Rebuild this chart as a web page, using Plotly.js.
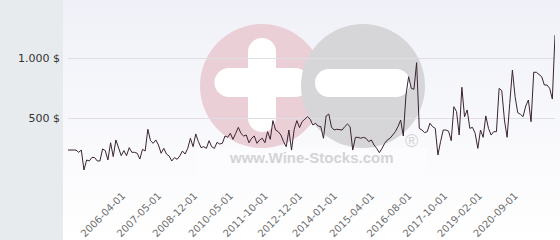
<!DOCTYPE html>
<html>
<head>
<meta charset="utf-8">
<script src="https://cdn.plot.ly/plotly-3.0.1.min.js"></script>
<style>html,body{margin:0;padding:0;background:#fff}#chart{width:560px;height:240px}</style>
</head>
<body>
<div id="chart"></div>
<script>
// Price series (USD), in order
const prices = [
  233,233,233,233,214,233,67,150,142,172,
  170,142,142,242,228,150,294,178,317,242,
  186,228,186,253,214,214,206,158,239,225,
  406,311,289,317,275,206,247,200,183,142,
  170,156,183,225,200,247,331,261,367,303,
  253,261,247,311,261,247,297,283,289,350,
  339,372,322,372,422,372,350,358,294,331,
  350,289,317,331,294,386,322,478,400,386,
  358,303,261,400,233,406,478,420,470,490,
  511,490,442,456,433,428,331,517,533,425,
  400,406,400,400,428,450,428,233,339,339,
  331,339,331,303,317,275,247,211,247,289,
  317,331,358,386,428,483,350,692,844,747,
  739,961,414,400,378,386,456,428,414,192,
  303,400,400,390,311,594,553,358,756,511,
  567,414,422,372,247,400,339,517,414,358,
  386,386,747,728,483,339,622,900,678,544,
  531,511,600,650,469,881,881,858,844,775,
  775,747,658,1192
];
// Tick labels (dates) and the observation position at which each appears
const tickLabels = ['2006-04-01','2007-05-01','2008-12-01','2010-05-01','2011-10-01','2012-12-01','2014-01-01','2015-04-01','2016-08-01','2017-10-01','2019-02-01','2020-09-01'];
const tickIndex = [20.5,34,47.5,61,74,87,100,114,128,141.5,154.5,168];
const yTickVals = [0,500,1000];
const yTickText = ['','500 $','1.000 $'];

const obsIndex = prices.map((_, i) => i);

// helpers: pixel -> paper coords (plot area 68..555 x, 10..178 y)
const PL=68, PR=555, PT=10, PB=178;
const px = v => (v-PL)/(PR-PL);
const py = v => (PB-v)/(PB-PT);
function circ(cx, cy, r, color){
  return {type:'circle', xref:'paper', yref:'paper', layer:'below',
    x0:px(cx-r), x1:px(cx+r), y0:py(cy+r), y1:py(cy-r),
    fillcolor:color, line:{width:0}};
}
function rect(x0,y0,x1,y1,color){
  return {type:'rect', xref:'paper', yref:'paper', layer:'below',
    x0:px(x0), x1:px(x1), y0:py(y1), y1:py(y0), fillcolor:color, line:{width:0}};
}
const pink='#eacfd6', grey='#d6d6d9', white='#ffffff';
const shapes = [
  circ(262,86,62,pink),
  // plus
  rect(248,52,276,118,white), circ(262,52,14,white), circ(262,118,14,white),
  rect(229,68,295,97,white), circ(229,82.5,14.5,white), circ(295,82.5,14.5,white),
  circ(363,86,62,grey),
  // minus
  rect(329,69,396,97,white), circ(329,83,14,white), circ(396,83,14,white),
  rect(197,148,427,174,'rgba(255,255,255,0.35)')
];

const svg = "<svg xmlns='http://www.w3.org/2000/svg' width='497' height='240' preserveAspectRatio='none'>"+
  "<defs><linearGradient id='g' x1='0' y1='0' x2='0' y2='1'><stop offset='0' stop-color='#f0f1f8'/><stop offset='1' stop-color='#ffffff'/></linearGradient></defs>"+
  "<rect width='497' height='240' fill='url(#g)'/></svg>";
const bgImg = 'data:image/svg+xml;charset=utf-8,' + encodeURIComponent(svg);

const trace = {
  type:'scatter', mode:'lines', x: obsIndex, y: prices,
  line:{color:'#3a2431', width:1}, hoverinfo:'skip'
};

const layout = {
  width:560, height:240,
  margin:{l:68, r:5, t:10, b:62},
  paper_bgcolor:'#e8ebee', plot_bgcolor:'rgba(0,0,0,0)',
  showlegend:false,
  font:{family:'DejaVu Sans', size:11, color:'#333'},
  xaxis:{type:'linear', range:[0, prices.length-1], showgrid:false, zeroline:false, showline:false,
    tickmode:'array', tickvals:tickIndex, ticktext:tickLabels, tickangle:-45,
    ticks:'outside', ticklen:7, tickcolor:'rgba(0,0,0,0)',
    tickfont:{family:'DejaVu Sans', size:10, color:'#6e6e6e'}},
  yaxis:{range:[0,1400], tickmode:'array', tickvals:yTickVals, ticktext:yTickText,
    showgrid:true, gridcolor:'#dedee4', gridwidth:1, zeroline:false, showline:false,
    ticks:'', ticklabelstandoff:7, tickfont:{family:'DejaVu Sans', size:11, color:'#333'}},
  images:[{source:bgImg, xref:'paper', yref:'paper', x:px(63), y:py(0), sizex:px(560)-px(63), sizey:py(0)-py(240),
    xanchor:'left', yanchor:'top', sizing:'stretch', layer:'below'}],
  shapes: shapes,
  annotations:[
    {text:'www.Wine-Stocks.com', xref:'paper', yref:'paper', x:px(311.5), y:py(168), showarrow:false,
      font:{family:'Liberation Sans', size:15, color:'#d3d3d6', weight:'bold'}},
    {text:'®', xref:'paper', yref:'paper', x:px(420), y:py(153), showarrow:false,
      font:{family:'Liberation Sans', size:18, color:'#d3d3d6'}}
  ]
};

Plotly.newPlot('chart', [trace], layout, {staticPlot:true, displayModeBar:false});
</script>
</body>
</html>
